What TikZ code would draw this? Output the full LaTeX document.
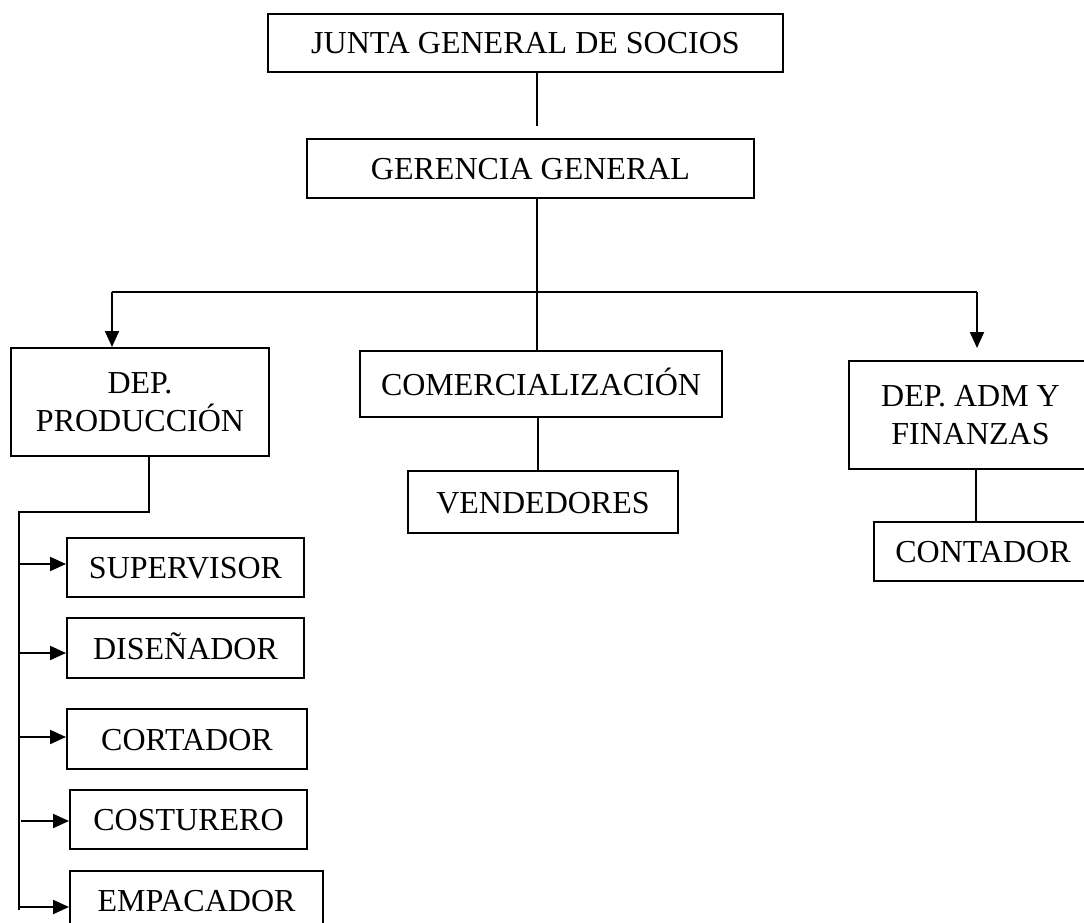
\documentclass[tikz,border=0pt]{standalone}
\usepackage{fontspec}
\setmainfont{Liberation Serif}
\usetikzlibrary{arrows.meta}
\begin{document}
\begin{tikzpicture}[x=1pt,y=-1pt,
  box/.style={draw,line width=2pt,inner sep=0pt,align=center,
    font=\fontsize{32}{38.3}\selectfont},
  one/.style={text height=22pt,text depth=0pt},
  conn/.style={line width=2pt},
  arr/.style={line width=2pt,-{Triangle[width=14pt,length=16pt]}}]
\useasboundingbox (0,0) rectangle (1084,923);
\fill[white] (0,0) rectangle (1084,923);

\node[box,one,minimum width=515pt,minimum height=58pt] (junta) at (525.5,43) {JUNTA GENERAL DE SOCIOS};
\node[box,one,minimum width=447pt,minimum height=59pt] (ger) at (530.5,168.5) {GERENCIA GENERAL};
\node[box,minimum width=258pt,minimum height=108pt] (prod) at (140,402) {DEP.\\PRODUCCIÓN};
\node[box,one,minimum width=362pt,minimum height=66pt] (com) at (541,384) {COMERCIALIZACIÓN};
\node[box,minimum width=243pt,minimum height=108pt] (adm) at (970.5,415) {DEP. ADM Y\\FINANZAS};
\node[box,one,minimum width=270pt,minimum height=62pt] (vend) at (543,502) {VENDEDORES};
\node[box,one,minimum width=218pt,minimum height=59pt] (cont) at (983,551.5) {CONTADOR};
\node[box,one,minimum width=237pt,minimum height=59pt] (sup) at (185.5,567.5) {SUPERVISOR};
\node[box,one,minimum width=237pt,minimum height=60pt] (dis) at (185.5,648) {DISEÑADOR};
\node[box,one,minimum width=240pt,minimum height=60pt] (cor) at (187,739) {CORTADOR};
\node[box,one,minimum width=237pt,minimum height=59pt] (cos) at (188.5,819.5) {COSTURERO};
\node[box,one,minimum width=253pt,minimum height=59pt] (emp) at (196.5,900.5) {EMPACADOR};

\coordinate (jg) at (537,126);
\draw[conn] (junta.south -| jg) -- (jg);
\coordinate (gx) at (537,0);
\draw[conn] (ger.south -| gx) -- (com.north -| gx);
\coordinate (hl) at (112,292);
\coordinate (hr) at (977,292);
\coordinate (ar) at (977,348);
\draw[conn] (hl) -- (hr);
\draw[arr] (hl) -- (prod.north -| hl);
\draw[arr] (hr) -- (ar);
\coordinate (cx) at (538,0);
\draw[conn] (com.south -| cx) -- (vend.north -| cx);
\coordinate (ax) at (976,0);
\draw[conn] (adm.south -| ax) -- (cont.north -| ax);

\coordinate (p1) at (149,512);
\coordinate (p2) at (19,512);
\coordinate (p3) at (19,910);
\draw[conn] (prod.south -| p1) -- (p1) -- (p2) -- (p3);
\coordinate (t1) at (19,564);
\coordinate (t2) at (19,653);
\coordinate (t3) at (19,737);
\coordinate (t4) at (21,821);
\coordinate (t5) at (19,907);
\draw[arr] (t1) -- (t1 -| sup.west);
\draw[arr] (t2) -- (t2 -| dis.west);
\draw[arr] (t3) -- (t3 -| cor.west);
\draw[arr] (t4) -- (t4 -| cos.west);
\draw[arr] (t5) -- (t5 -| emp.west);
\end{tikzpicture}
\end{document}
